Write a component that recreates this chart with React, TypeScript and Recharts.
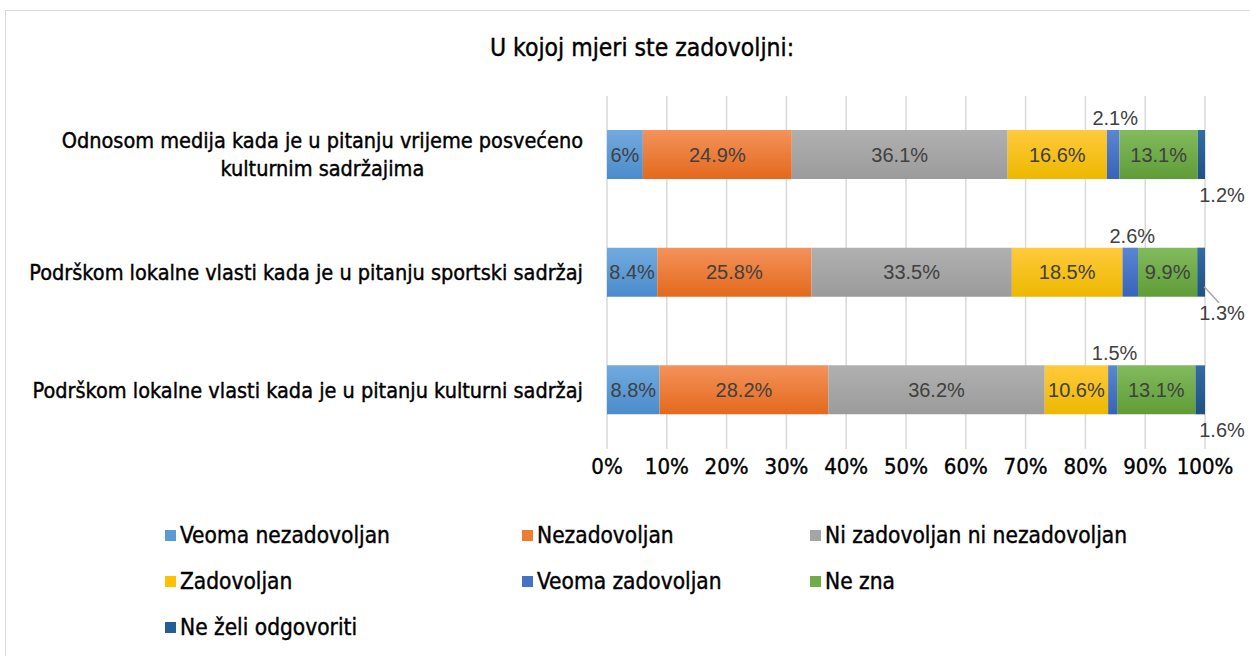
import React from 'react';
import { BarChart, Bar, XAxis, YAxis, CartesianGrid, LabelList } from 'recharts';

const categories = [
  'Odnosom medija kada je u pitanju vrijeme posvećeno kulturnim sadržajima',
  'Podrškom lokalne vlasti kada je u pitanju sportski sadržaj',
  'Podrškom lokalne vlasti kada je u pitanju kulturni sadržaj',
];

const seriesNames = [
  'Veoma nezadovoljan',
  'Nezadovoljan',
  'Ni zadovoljan ni nezadovoljan',
  'Zadovoljan',
  'Veoma zadovoljan',
  'Ne zna',
  'Ne želi odgovoriti',
];

const veomaNezadovoljan = [6, 8.4, 8.8];
const nezadovoljan = [24.9, 25.8, 28.2];
const niNi = [36.1, 33.5, 36.2];
const zadovoljan = [16.6, 18.5, 10.6];
const veomaZadovoljan = [2.1, 2.6, 1.5];
const neZna = [13.1, 9.9, 13.1];
const neZeli = [1.2, 1.3, 1.6];

const xTicks = [0, 10, 20, 30, 40, 50, 60, 70, 80, 90, 100];

// leader line on the "Ne želi odgovoriti" label per row
const leaderRows = [false, true, false];

const seriesValues = [veomaNezadovoljan, nezadovoljan, niNi, zadovoljan, veomaZadovoljan, neZna, neZeli];

// [legend colour, gradient top, gradient bottom]
const colors = [
  ['#5B9BD5', '#72aadf', '#4a8ccb'],
  ['#ED7D31', '#f4925b', '#e3691c'],
  ['#A5A5A5', '#b0b0b0', '#9b9b9b'],
  ['#FFC000', '#ffca3c', '#ecb800'],
  ['#4472C4', '#5a86d2', '#3863b8'],
  ['#70AD47', '#82bb5d', '#5f9c37'],
  ['#255E91', '#316ca3', '#1f5183'],
];

const data = categories.map((name, i) => {
  const row: Record<string, any> = { name };
  seriesNames.forEach((s, j) => {
    row[s] = seriesValues[j][i];
  });
  return row;
});

const labelFont = '"Liberation Sans", Arial, sans-serif';
const condFont = '"DejaVu Sans Condensed", sans-serif';

let measureCtx: CanvasRenderingContext2D | null = null;
const measure = (text: string, font: string) => {
  if (!measureCtx) measureCtx = document.createElement('canvas').getContext('2d');
  if (!measureCtx) return text.length * 10;
  measureCtx.font = font;
  return measureCtx.measureText(text).width;
};

const CategoryTick = (props: any) => {
  const { y, payload } = props;
  const right = 583;
  const size = 21.5;
  const font = `${size}px ${condFont}`;
  const words = String(payload.value).split(' ');
  const lines: string[] = [];
  let cur = '';
  words.forEach((w) => {
    const test = cur ? cur + ' ' + w : w;
    if (measure(test, font) > 575 && cur) {
      lines.push(cur);
      cur = w;
    } else cur = test;
  });
  lines.push(cur);
  const maxW = Math.max(...lines.map((l) => measure(l, font)));
  const cx = right - maxW / 2;
  const lh = 28;
  const startY = y - ((lines.length - 1) * lh) / 2;
  return (
    <text
      x={cx}
      y={startY}
      textAnchor="middle"
      fontFamily={condFont}
      fontSize={size}
      fill="#000"
      stroke="#000"
      strokeWidth={0.4}
    >
      {lines.map((l, i) => (
        <tspan key={i} x={cx} y={startY + i * lh} dy="0.35em">
          {l}
        </tspan>
      ))}
    </text>
  );
};

const makeLabel = (seriesIdx: number) => (props: any) => {
  const { x, y, width, height, value, index } = props;
  const txt = `${value}%`;
  const common = { fontFamily: labelFont, fontSize: 20, fill: '#404040' };
  if (seriesIdx === 4) {
    return (
      <text x={x + width / 2 + 2} y={y - 12} dy="0.35em" textAnchor="middle" {...common}>
        {txt}
      </text>
    );
  }
  if (seriesIdx === 6) {
    return (
      <g>
        {leaderRows[index] && (
          <line x1={x + width / 2 + 3} y1={y + height - 10} x2={x + width + 14} y2={y + height + 6} stroke="#a6a6a6" strokeWidth={1.5} />
        )}
        <text x={x + width + 17} y={y + height + 16} dy="0.35em" textAnchor="middle" {...common}>
          {txt}
        </text>
      </g>
    );
  }
  return (
    <text x={x + width / 2} y={y + height / 2} dy="0.35em" textAnchor="middle" {...common}>
      {txt}
    </text>
  );
};

const legendCols = [165, 522, 810];

export default function App() {
  return (
    <div style={{ position: 'absolute', left: 0, top: 0, width: 1250, height: 656, background: '#fff', overflow: 'hidden' }}>
      <div
        style={{
          position: 'absolute',
          left: 5,
          top: 10,
          width: 1300,
          height: 700,
          borderLeft: '1px solid #d9d9d9',
          borderTop: '1px solid #d9d9d9',
        }}
      />
      <div
        style={{
          position: 'absolute',
          left: 0,
          width: 1284,
          top: 33,
          textAlign: 'center',
          fontFamily: condFont,
          fontSize: 24.5,
          color: '#000',
          lineHeight: '30px',
          WebkitTextStroke: '0.4px #000',
        }}
      >
        U kojoj mjeri ste zadovoljni:
      </div>
      <div style={{ position: 'absolute', left: 0, top: 0 }}>
        <BarChart
          width={1250}
          height={656}
          data={data}
          layout="vertical"
          margin={{ top: 96, right: 45, bottom: 177, left: 0 }}
          barSize={49}
        >
          <defs>
            {colors.map((c, i) => (
              <linearGradient key={i} id={`grad${i}`} x1="0" y1="0" x2="0" y2="1">
                <stop offset="0%" stopColor={c[1]} />
                <stop offset="100%" stopColor={c[2]} />
              </linearGradient>
            ))}
          </defs>
          <CartesianGrid horizontal={false} stroke="#d9d9d9" strokeWidth={1.5} />
          <XAxis
            type="number"
            domain={[0, 100]}
            ticks={xTicks}
            tickFormatter={(v) => `${v}%`}
            axisLine={false}
            tickLine={false}
            tickMargin={3}
            height={30}
            interval={0}
            tick={{ fill: '#000', fontSize: 22, fontFamily: condFont, stroke: '#000', strokeWidth: 0.4 }}
          />
          <YAxis type="category" dataKey="name" width={607} axisLine={false} tickLine={false} tick={<CategoryTick />} interval={0} />
          {seriesNames.map((s, i) => (
            <Bar key={s} dataKey={s} stackId="a" fill={`url(#grad${i})`} isAnimationActive={false}>
              <LabelList dataKey={s} content={makeLabel(i)} />
            </Bar>
          ))}
        </BarChart>
      </div>
      {seriesNames.map((s, i) => {
        const row = Math.floor(i / 3);
        const col = i % 3;
        return (
          <div
            key={s}
            style={{
              position: 'absolute',
              left: legendCols[col],
              top: 521 + row * 46,
              height: 28,
              display: 'flex',
              alignItems: 'center',
              fontFamily: condFont,
              fontSize: 22.5,
              color: '#000',
              whiteSpace: 'nowrap',
              WebkitTextStroke: '0.4px #000',
            }}
          >
            <span style={{ display: 'inline-block', width: 11, height: 11, background: colors[i][0], marginRight: 4 }} />
            {s}
          </div>
        );
      })}
    </div>
  );
}
